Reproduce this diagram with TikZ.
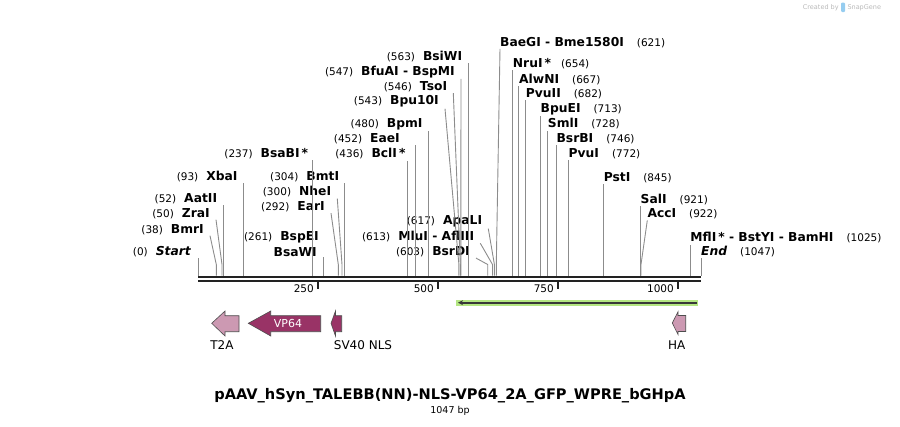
\documentclass[tikz,border=0pt]{standalone}
\usepackage{fontspec}
\setmainfont{DejaVu Sans}
\usetikzlibrary{arrows.meta}
\definecolor{cutgray}{RGB}{140,140,140}
\definecolor{seqblack}{RGB}{34,34,34}
\definecolor{featlight}{RGB}{204,153,178}
\definecolor{featdark}{RGB}{153,51,102}
\definecolor{featedge}{RGB}{77,77,77}
\definecolor{gfpglow}{RGB}{180,230,130}
\definecolor{wmgray}{RGB}{185,185,185}
\definecolor{wmblue}{RGB}{150,205,240}
\newcommand{\enz}[1]{{\fontsize{12.3}{14}\selectfont\bfseries #1}}
\tikzset{
  cutline/.style={cutgray, line width=0.9pt},
  sitel/.style={anchor=east, inner xsep=0pt, inner ysep=1pt, font=\fontsize{10.5}{12}\selectfont},
  siter/.style={sitel, anchor=west},
  feat/.style={draw=featedge, line width=0.6pt},
  featlabel/.style={inner sep=0pt, font=\fontsize{12}{14}\selectfont},
  ticklabel/.style={anchor=east, inner sep=0pt, font=\fontsize{10.5}{12}\selectfont}
}

\begin{document}
\begin{tikzpicture}[x=1pt, y=-1pt]
\useasboundingbox (0,0) rectangle (900,426);

% sequence backbone
\coordinate (seqL) at (198,277);
\coordinate (seqR) at (701,277);
\draw[seqblack, line width=2.8pt] (seqL) -- (seqR);
\draw[seqblack, line width=2pt] ([yshift=-4pt]seqL) -- ([yshift=-4pt]seqR);
\foreach \x/\t in {318/250, 438/500, 558/750, 678/1000} {
  \coordinate (tick\t) at (\x,282);
  \draw[seqblack, line width=1.6pt] (tick\t) -- ++(0,7);
  \node[ticklabel] (tl\t) at (\x-4,289) {\t};
}

% cut sites on the backbone
\foreach \n/\x in {seqStart/198, bmrI/216.3, zraI/222, aatII/223.3, xbaI/243,
    bsaBI/312, bspEI/323.4, earI/338.3, nheI/342, bmtI/344, bclI/407.4,
    eaeI/415.2, bpmI/428.6, bpu10I/458.9, tsoI/460.3, bfuAI/460.8,
    bsiWI/468.5, bsrDI/487.7, mluI/492.5, apaLI/494.4, baeGI/496.3,
    nruI/512.7, alwNI/518.9, pvuII/525.7, bpuEI/540.5, smlI/547.7,
    bsrBI/556.4, pvuI/568.5, pstI/603.6, salI/640.5, accI/641,
    mflI/690.2, seqEnd/701}
  \coordinate (\n) at (\x,275.5);

% labels left of their line
\node[sitel] (seqStart-l) at (191,251.7) {(0)\hspace{8pt}\enz{\itshape Start}};
\node[sitel] (bmrI-l) at (204,229.3) {(38)\hspace{8pt}\enz{BmrI}};
\node[sitel] (zraI-l) at (210,213.3) {(50)\hspace{8pt}\enz{ZraI}};
\node[sitel] (aatII-l) at (217.3,199) {(52)\hspace{8pt}\enz{AatII}};
\node[sitel] (xbaI-l) at (237.7,176.7) {(93)\hspace{8pt}\enz{XbaI}};
\node[sitel] (bsaBI-l) at (308.3,154) {(237)\hspace{8pt}\enz{BsaBI\,*}};
\node[sitel] (bspEI-l) at (319,237.3) {(261)\hspace{8pt}\enz{BspEI}};
\node[sitel] (bsaWI-l) at (317,251.7) {\enz{BsaWI}};
\node[sitel] (earI-l) at (325,206.7) {(292)\hspace{8pt}\enz{EarI}};
\node[sitel] (nheI-l) at (331.3,192) {(300)\hspace{8pt}\enz{NheI}};
\node[sitel] (bmtI-l) at (339.3,176.7) {(304)\hspace{8pt}\enz{BmtI}};
\node[sitel] (bclI-l) at (405.7,154) {(436)\hspace{8pt}\enz{BclI\,*}};
\node[sitel] (eaeI-l) at (400,139) {(452)\hspace{8pt}\enz{EaeI}};
\node[sitel] (bpmI-l) at (422.7,124.3) {(480)\hspace{8pt}\enz{BpmI}};
\node[sitel] (bpu10I-l) at (439,101.7) {(543)\hspace{8pt}\enz{Bpu10I}};
\node[sitel] (tsoI-l) at (447.3,86.7) {(546)\hspace{8pt}\enz{TsoI}};
\node[sitel] (bfuAI-l) at (455,71.7) {(547)\hspace{8pt}\enz{BfuAI - BspMI}};
\node[sitel] (bsiWI-l) at (462.3,56.7) {(563)\hspace{8pt}\enz{BsiWI}};
\node[sitel] (apaLI-l) at (482.3,221.7) {(617)\hspace{8pt}\enz{ApaLI}};
\node[sitel] (mluI-l) at (474.3,236.7) {(613)\hspace{8pt}\enz{MluI - AflIII}};
\node[sitel] (bsrDI-l) at (470,251.7) {(603)\hspace{8pt}\enz{BsrDI}};

% labels right of their line
\node[siter] (baeGI-l) at (500,42.3) {\enz{BaeGI - Bme1580I}\hspace{13pt}(621)};
\node[siter] (nruI-l) at (512.7,64) {\enz{NruI\,*}\hspace{10pt}(654)};
\node[siter] (alwNI-l) at (519,79.3) {\enz{AlwNI}\hspace{13pt}(667)};
\node[siter] (pvuII-l) at (525.7,94) {\enz{PvuII}\hspace{13pt}(682)};
\node[siter] (bpuEI-l) at (540.5,109) {\enz{BpuEI}\hspace{13pt}(713)};
\node[siter] (smlI-l) at (547.7,124) {\enz{SmlI}\hspace{13pt}(728)};
\node[siter] (bsrBI-l) at (556.4,139) {\enz{BsrBI}\hspace{13pt}(746)};
\node[siter] (pvuI-l) at (568.5,154) {\enz{PvuI}\hspace{13pt}(772)};
\node[siter] (pstI-l) at (603.6,177.7) {\enz{PstI}\hspace{13pt}(845)};
\node[siter] (salI-l) at (640.5,199.3) {\enz{SalI}\hspace{13pt}(921)};
\node[siter] (accI-l) at (647.3,214) {\enz{AccI}\hspace{13pt}(922)};
\node[siter] (mflI-l) at (690.2,238) {\enz{MflI\,* - BstYI - BamHI}\hspace{13pt}(1025)};
\node[siter] (seqEnd-l) at (701,251.7) {\enz{\itshape End}\hspace{13pt}(1047)};

% straight cut lines
\foreach \n/\l in {seqStart/seqStart, aatII/aatII, xbaI/xbaI, bsaBI/bsaBI,
    bspEI/bsaWI, bmtI/bmtI, bclI/bclI, eaeI/eaeI, bpmI/bpmI, bsiWI/bsiWI,
    nruI/nruI, alwNI/alwNI, pvuII/pvuII, bpuEI/bpuEI, smlI/smlI,
    bsrBI/bsrBI, pvuI/pvuI, pstI/pstI, salI/salI, mflI/mflI, seqEnd/seqEnd}
  \draw[cutline] (\n) -- (\n |- \l-l.south);
% bent cut lines
\foreach \n in {bmrI, zraI, earI, nheI, bpu10I, tsoI, bfuAI, bsrDI, mluI, apaLI}
  \draw[cutline] ([xshift=6pt]\n-l.south east) -- ([yshift=11pt]\n) -- (\n);
\foreach \n in {baeGI, accI}
  \draw[cutline] (\n-l.south west) -- ([yshift=11pt]\n) -- (\n);

% features
\coordinate (gfpR) at (698,302.7);
\coordinate (gfpL) at (456,302.7);
\draw[gfpglow, line width=6pt] (gfpR) -- (gfpL);
\draw[seqblack!90, line width=1.8pt, -{Stealth[length=5pt, width=5pt]}]
  ([xshift=-1.5pt]gfpR) -- ([xshift=2pt]gfpL);

\draw[feat, fill=featlight] (211.7,323.3) -- (225,311) -- (225,315.7) -- (239,315.7)
  -- (239,331.7) -- (225,331.7) -- (225,336) -- cycle;
\node[featlabel] (t2a) at (222,345) {T2A};

\draw[feat, fill=featdark] (248.3,323.3) -- (270.7,311) -- (270.7,315.7) -- (320.7,315.7)
  -- (320.7,331.7) -- (270.7,331.7) -- (270.7,336) -- cycle;
\node[featlabel, text=white, font=\fontsize{11}{13}\selectfont] (vp64) at (288,323) {VP64};

\draw[feat, fill=featdark] (331,323.3) -- (335.5,311) -- (335.5,315.7) -- (341.7,315.7)
  -- (341.7,331.7) -- (335.5,331.7) -- (335.5,336) -- cycle;
\node[featlabel] (sv40) at (363,345) {SV40 NLS};

\draw[feat, fill=featlight] (672.3,323) -- (678,311.7) -- (678,315.5) -- (685.7,315.5)
  -- (685.7,331.5) -- (678,331.5) -- (678,334.5) -- cycle;
\node[featlabel] (ha) at (676.7,345) {HA};

% title
\node[font=\fontsize{14.6}{16}\selectfont\bfseries] (title) at (450,396)
  {pAAV\_hSyn\_TALEBB(NN)-NLS-VP64\_2A\_GFP\_WPRE\_bGHpA};
\node[font=\fontsize{9.5}{11}\selectfont] (bp) at (450,411) {1047 bp};

% watermark
\node[anchor=west, inner sep=0pt, text=wmgray, font=\fontsize{6.5}{8}\selectfont]
  (crby) at (802.7,7.3) {Created by};
\fill[wmblue, rounded corners=1pt] (841,2.7) rectangle (845,12);
\node[anchor=west, inner sep=0pt, text=wmgray, font=\fontsize{6.5}{8}\selectfont]
  (snapgene) at (847.3,7.3) {SnapGene};
\end{tikzpicture}
\end{document}
